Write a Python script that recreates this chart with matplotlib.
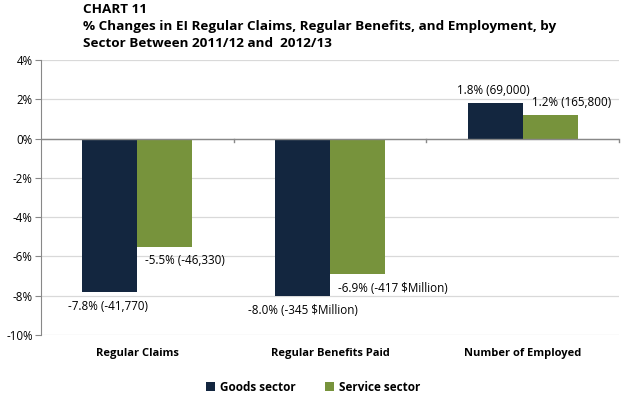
import matplotlib.pyplot as plt
import numpy as np

# data
categories = ['Regular Claims', 'Regular Benefits Paid', 'Number of Employed']
goods = [-7.8, -8.0, 1.8]
service = [-5.5, -6.9, 1.2]
goods_labels = ['-7.8% (-41,770)', '-8.0% (-345 $Million)', '1.8% (69,000)']
service_labels = ['-5.5% (-46,330)', '-6.9% (-417 $Million)', '1.2% (165,800)']

navy = '#13263f'
green = '#77933c'
plt.rcParams['font.family'] = ['Open Sans', 'DejaVu Sans']

fig = plt.figure(figsize=(6.26, 3.97), dpi=100)
ax = fig.add_axes([41 / 626, 1 - 335 / 397, 578 / 626, 275 / 397])

x = np.arange(len(categories))
w = 0.285
ax.bar(x - w / 2, goods, w, color=navy, label='Goods sector', zorder=3)
ax.bar(x + w / 2, service, w, color=green, label='Service sector', zorder=3)

ax.set_xlim(-0.5, 2.5)
ax.set_ylim(-10, 4)
ax.set_yticks(np.arange(-10, 5, 2))
ax.set_yticklabels([f'{v}%' for v in range(-10, 5, 2)], fontsize=8.3)
ax.yaxis.grid(True, color='#d9d9d9', linewidth=0.9, zorder=0)
ax.tick_params(axis='y', length=4, color='#888888', pad=2)

for s in ['top', 'right', 'bottom']:
    ax.spines[s].set_visible(False)
ax.spines['left'].set_color('#888888')
ax.axhline(0, color='#888888', linewidth=1, zorder=4)

ax.set_xticks([])
for b in [0.5, 1.5, 2.5]:
    ax.plot([b, b], [0, -0.2], color='#888888', linewidth=1, clip_on=False, zorder=4)
for i, c in enumerate(categories):
    ax.text(i, -10.65, c, ha='center', va='top', fontsize=8, fontweight='bold')

# data labels
fs = 8.4
ax.text(0 - 0.15, goods[0] - 0.4, goods_labels[0], ha='center', va='top', fontsize=fs)
ax.text(0 + 0.04, service[0] - 0.4, service_labels[0], ha='left', va='top', fontsize=fs)
ax.text(1 - 0.14, goods[1] - 0.4, goods_labels[1], ha='center', va='top', fontsize=fs)
ax.text(1 + 0.04, service[1] - 0.4, service_labels[1], ha='left', va='top', fontsize=fs)
ax.text(2 - 0.15, goods[2] + 0.3, goods_labels[2], ha='center', va='bottom', fontsize=fs)
ax.text(2 + 0.255, service[2] + 0.3, service_labels[2], ha='center', va='bottom', fontsize=fs)

fig.text(83 / 626, 1 - 3 / 397,
         'CHART 11\n% Changes in EI Regular Claims, Regular Benefits, and Employment, by\n'
         'Sector Between 2011/12 and  2012/13',
         ha='left', va='top', fontsize=9.7, fontweight='bold', linespacing=1.4)

fig.legend(loc='lower center', bbox_to_anchor=(0.5, -0.018), ncol=2, frameon=False,
           handlelength=0.8, handleheight=0.8, columnspacing=2.5, handletextpad=0.4,
           prop={'weight': 'bold', 'size': 8.5})

fig.savefig('out.png', dpi=100)
